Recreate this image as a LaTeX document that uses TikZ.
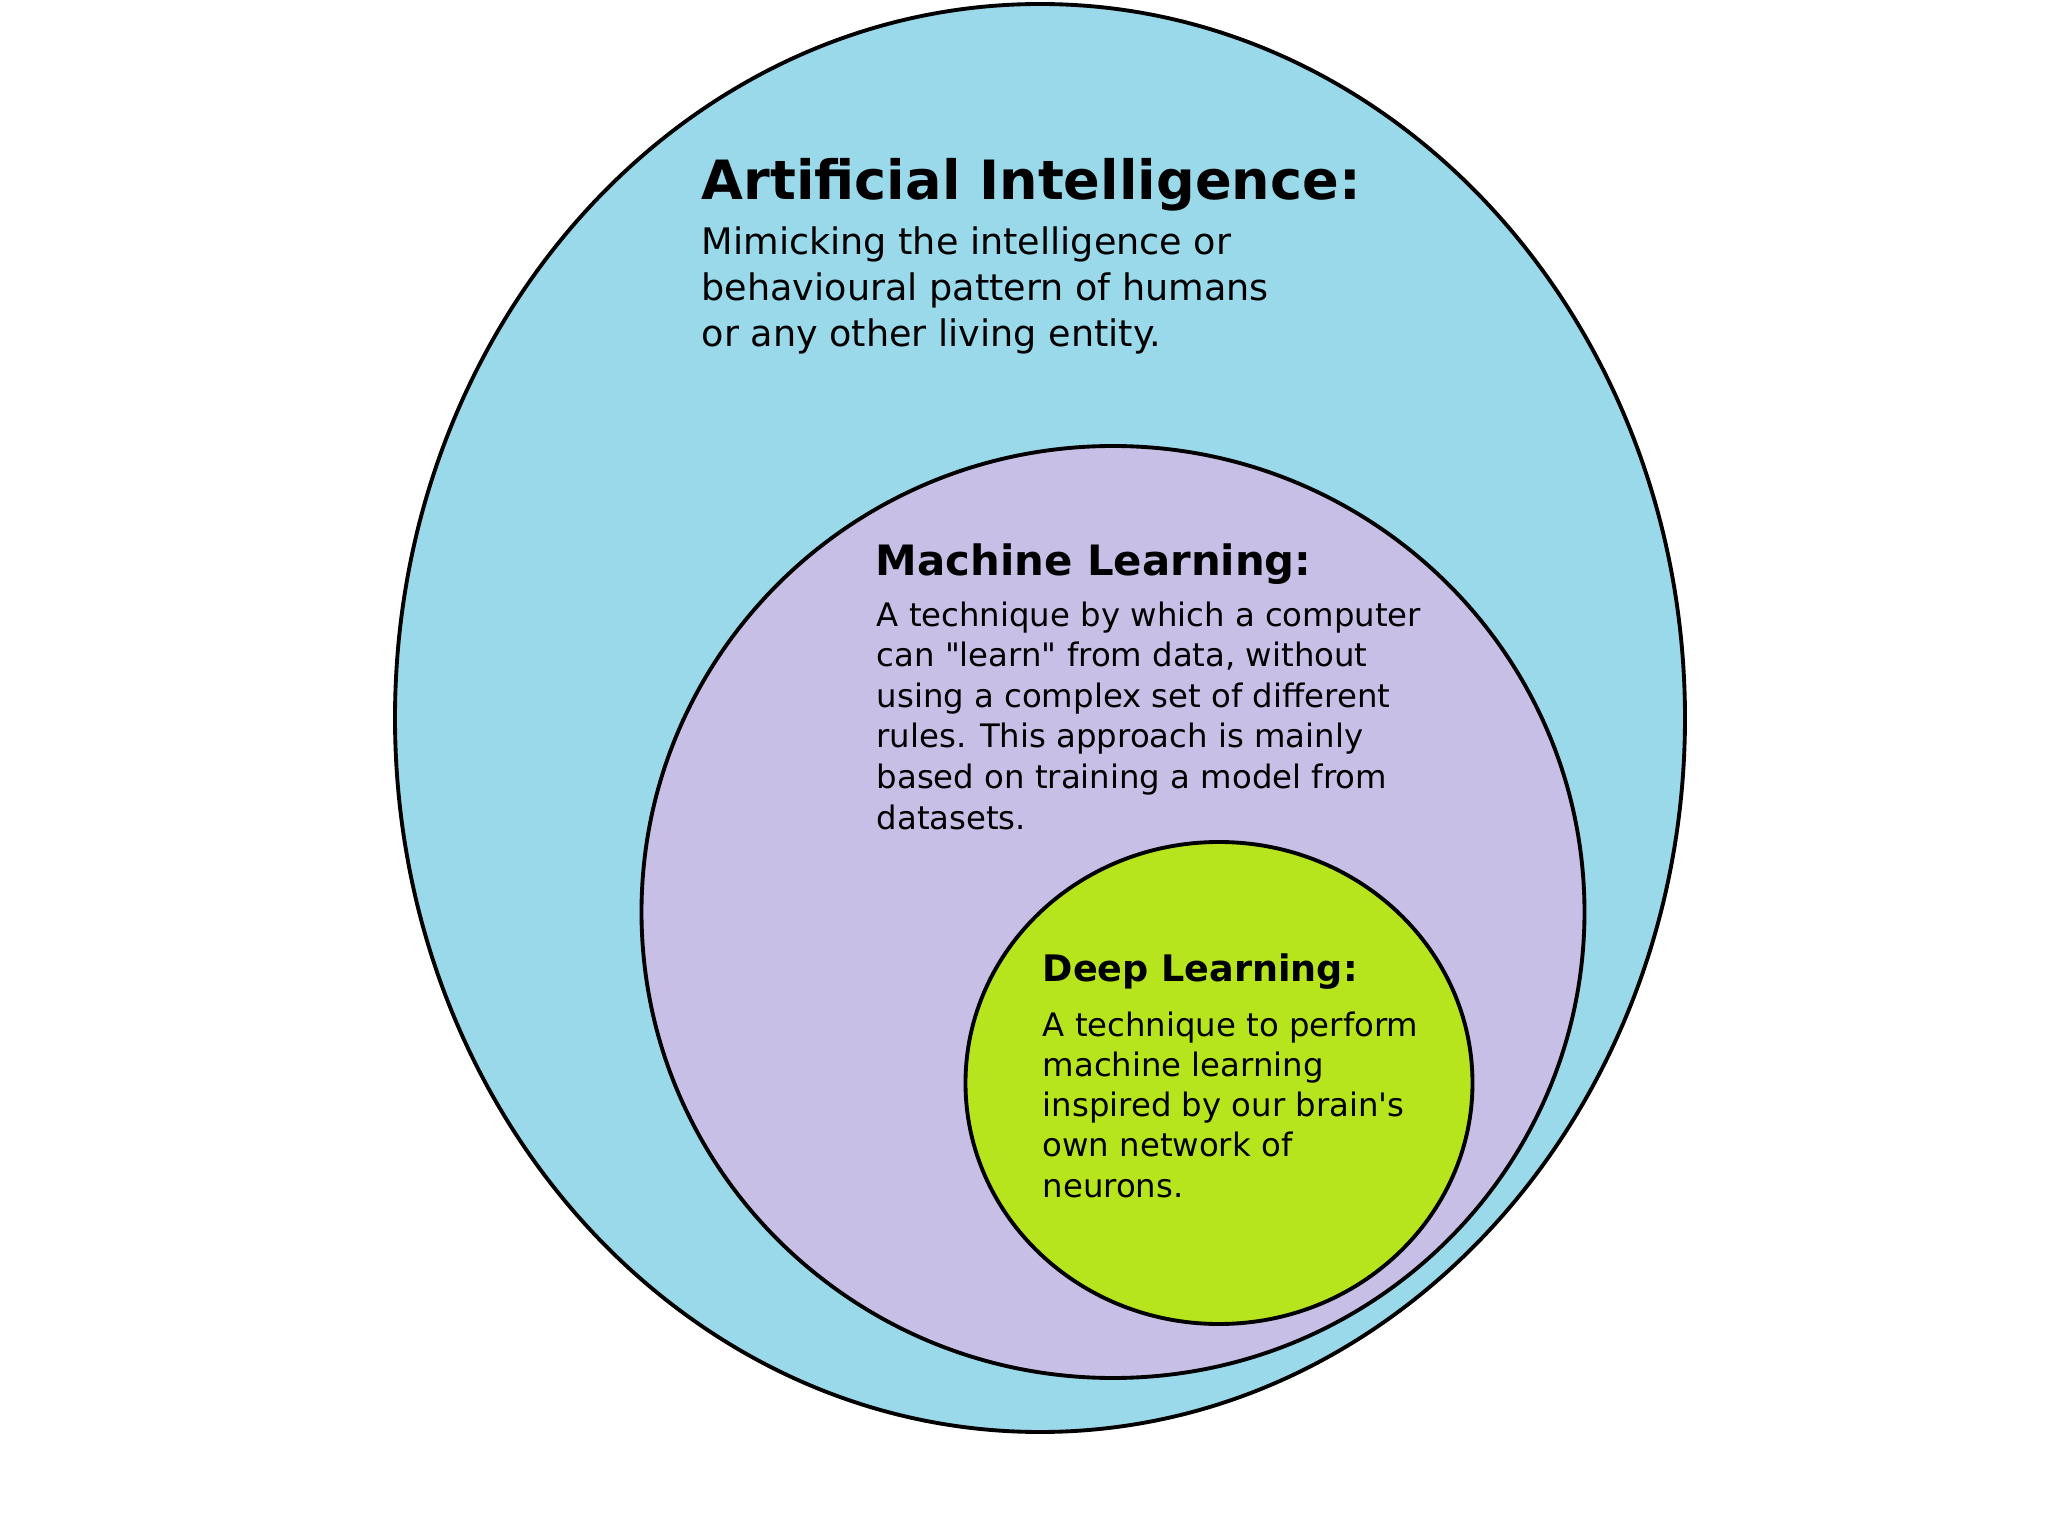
\documentclass[tikz,border=0pt]{standalone}
\usepackage{fontspec}
\setmainfont{DejaVu Sans}
\definecolor{aiblue}{RGB}{154,217,234}
\definecolor{mlviolet}{RGB}{200,191,230}
\definecolor{dlgreen}{RGB}{182,229,30}

\begin{document}
\begin{tikzpicture}[line cap=round,line join=round]
  \useasboundingbox (0,0) rectangle (20.48,-15.36);
  \draw[line width=1.1pt,fill=aiblue] (10.40,-7.18) ellipse [x radius=6.45, y radius=7.14];
  \draw[line width=1.1pt,fill=mlviolet] (11.13,-9.12) ellipse [x radius=4.715, y radius=4.66];
  \draw[line width=1.1pt,fill=dlgreen] (12.19,-10.83) ellipse [x radius=2.535, y radius=2.41];
  \node[anchor=base west,inner sep=0pt,font=\bfseries\fontsize{15.4}{18}\selectfont] (aititle) at (7.01,-2.00) {Artificial Intelligence:};
  \node[anchor=base west,inner sep=0pt,align=left,font=\fontsize{10.4}{13.1}\selectfont] (aitext) at (7.01,-3.47) {Mimicking the intelligence or\\behavioural pattern of humans\\or any other living entity.};
  \node[anchor=base west,inner sep=0pt,font=\bfseries\fontsize{11.9}{14}\selectfont] (mltitle) at (8.75,-5.76) {Machine Learning:};
  \node[anchor=base west,inner sep=0pt,align=left,font=\fontsize{9.2}{11.55}\selectfont] (mltext) at (8.76,-8.29) {A technique by which a computer\\can \textquotedbl learn\textquotedbl{} from data, without\\using a complex set of different\\rules. This approach is mainly\\based on training a model from\\datasets.};
  \node[anchor=base west,inner sep=0pt,font=\bfseries\fontsize{10.4}{12}\selectfont] (dltitle) at (10.42,-9.81) {Deep Learning:};
  \node[anchor=base west,inner sep=0pt,align=left,font=\fontsize{9.2}{11.45}\selectfont] (dltext) at (10.42,-11.97) {A technique to perform\\machine learning\\inspired by our brain\textquotesingle s\\own network of\\neurons.};
\end{tikzpicture}
\end{document}
